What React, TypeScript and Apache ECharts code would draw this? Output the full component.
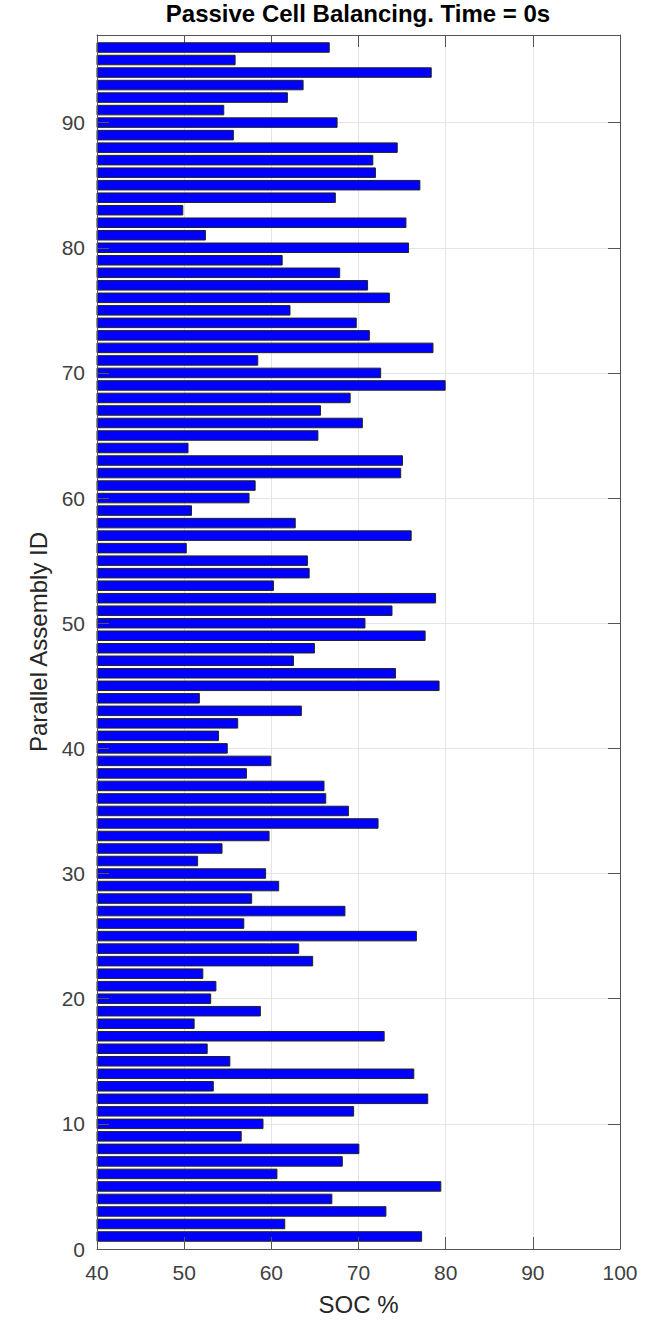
import React, { useEffect, useRef } from 'react';
import * as echarts from 'echarts';

const FONT = '"Liberation Sans", Arial, Helvetica, sans-serif';

const TITLE = 'Passive Cell Balancing. Time = 0s';
const X_NAME = 'SOC %';
const Y_NAME = 'Parallel Assembly ID';

// SOC % of parallel assemblies 1..96 (bottom to top)
const socValues: number[] = [
  77.3, 61.6, 73.2, 67.0, 79.5, 60.7, 68.2, 70.1, 56.6, 59.1,
  69.5, 78.0, 53.4, 76.4, 55.3, 52.7, 73.0, 51.2, 58.8, 53.1,
  53.7, 52.2, 64.8, 63.2, 76.7, 56.9, 68.5, 57.8, 60.9, 59.4,
  51.6, 54.4, 59.8, 72.3, 68.9, 66.3, 66.1, 57.2, 60.0, 55.0,
  54.0, 56.2, 63.5, 51.8, 79.3, 74.3, 62.6, 65.0, 77.7, 70.8,
  73.9, 78.9, 60.3, 64.4, 64.2, 50.3, 76.1, 62.8, 50.9, 57.5,
  58.2, 74.9, 75.1, 50.5, 65.4, 70.5, 65.7, 69.1, 80.0, 72.6,
  58.5, 78.6, 71.3, 69.8, 62.2, 73.6, 71.1, 67.9, 61.3, 75.8,
  52.5, 75.5, 49.9, 67.4, 77.1, 72.0, 71.7, 74.5, 55.7, 67.6,
  54.6, 61.9, 63.7, 78.4, 55.9, 66.7,
];

// y axis runs from 0 to 97 (one slot per assembly plus padding)
const yMax = 97;
const yTickLabels = ['0', '10', '20', '30', '40', '50', '60', '70', '80', '90'];
const xMin = 40;
const xMax = 100;
const xInterval = 10;

export default function App() {
  const ref = useRef<HTMLDivElement>(null);

  useEffect(() => {
    if (!ref.current) return;
    const chart = echarts.init(ref.current, undefined, { renderer: 'svg' });

    const categories: string[] = [];
    for (let i = 0; i <= yMax; i++) categories.push(String(i));
    const data: (number | string)[] = ['-', ...socValues];
    while (data.length < categories.length) data.push('-');

    const isTick = (index: number) => yTickLabels.indexOf(String(index)) >= 0;

    const axisColor = '#555555';
    const labelColor = '#404040';
    const gridColor = '#e4e4e4';

    const option: any = {
      animation: false,
      backgroundColor: '#ffffff',
      textStyle: { fontFamily: FONT },
      grid: { left: 97, right: 31, top: 35, bottom: 70, containLabel: false },
      xAxis: [
        {
          type: 'value',
          position: 'bottom',
          min: xMin,
          max: xMax,
          interval: xInterval,
          z: 3,
          name: X_NAME,
          nameLocation: 'middle',
          nameGap: 43,
          nameTextStyle: { fontSize: 24, color: '#262626', fontFamily: FONT },
          axisLine: { show: true, onZero: false, lineStyle: { color: axisColor, width: 1 } },
          axisTick: { show: true, inside: true, length: 12, lineStyle: { color: axisColor, width: 1 } },
          axisLabel: { fontSize: 21, color: labelColor, margin: 13, fontFamily: FONT },
          splitLine: { show: false },
        },
        {
          type: 'value',
          position: 'top',
          min: xMin,
          max: xMax,
          interval: xInterval,
          z: 0,
          axisLine: { show: true, onZero: false, lineStyle: { color: axisColor, width: 1 } },
          axisTick: { show: true, inside: true, length: 12, lineStyle: { color: axisColor, width: 1 } },
          axisLabel: { show: false },
          splitLine: { show: true, lineStyle: { color: gridColor, width: 1 } },
        },
      ],
      yAxis: [
        {
          type: 'category',
          data: categories,
          boundaryGap: false,
          position: 'left',
          z: 3,
          name: Y_NAME,
          nameLocation: 'middle',
          nameGap: 46,
          nameTextStyle: { fontSize: 24, color: '#262626', fontFamily: FONT },
          axisLine: { show: true, onZero: false, lineStyle: { color: axisColor, width: 1 } },
          axisTick: {
            show: true,
            inside: true,
            length: 12,
            interval: (index: number) => isTick(index),
            lineStyle: { color: axisColor, width: 1 },
          },
          axisLabel: {
            fontSize: 21,
            color: labelColor,
            margin: 12,
            fontFamily: FONT,
            interval: (index: number) => isTick(index),
          },
          splitLine: { show: false },
        },
        {
          type: 'category',
          data: categories,
          boundaryGap: false,
          position: 'right',
          z: 0,
          axisLine: { show: true, onZero: false, lineStyle: { color: axisColor, width: 1 } },
          axisTick: {
            show: true,
            inside: true,
            length: 12,
            interval: (index: number) => isTick(index),
            lineStyle: { color: axisColor, width: 1 },
          },
          axisLabel: { show: false },
          splitLine: {
            show: true,
            interval: (index: number) => isTick(index),
            lineStyle: { color: gridColor, width: 1 },
          },
        },
      ],
      series: [
        {
          type: 'bar',
          xAxisIndex: 0,
          yAxisIndex: 0,
          data,
          barWidth: '84%',
          itemStyle: { color: '#0000ff', borderColor: '#222222', borderWidth: 1 },
        },
      ],
      graphic: [
        {
          type: 'text',
          x: 358,
          y: 1,
          style: {
            text: TITLE,
            fill: '#000000',
            font: `bold 24px ${FONT}`,
            fontSize: 24,
            fontWeight: 'bold',
            fontFamily: FONT,
            textAlign: 'center',
            textVerticalAlign: 'top',
          },
        },
      ],
    };

    chart.setOption(option);
    return () => chart.dispose();
  }, []);

  return (
    <div
      ref={ref}
      style={{ position: 'absolute', left: 0, top: 0, width: 651, height: 1321 }}
    />
  );
}
